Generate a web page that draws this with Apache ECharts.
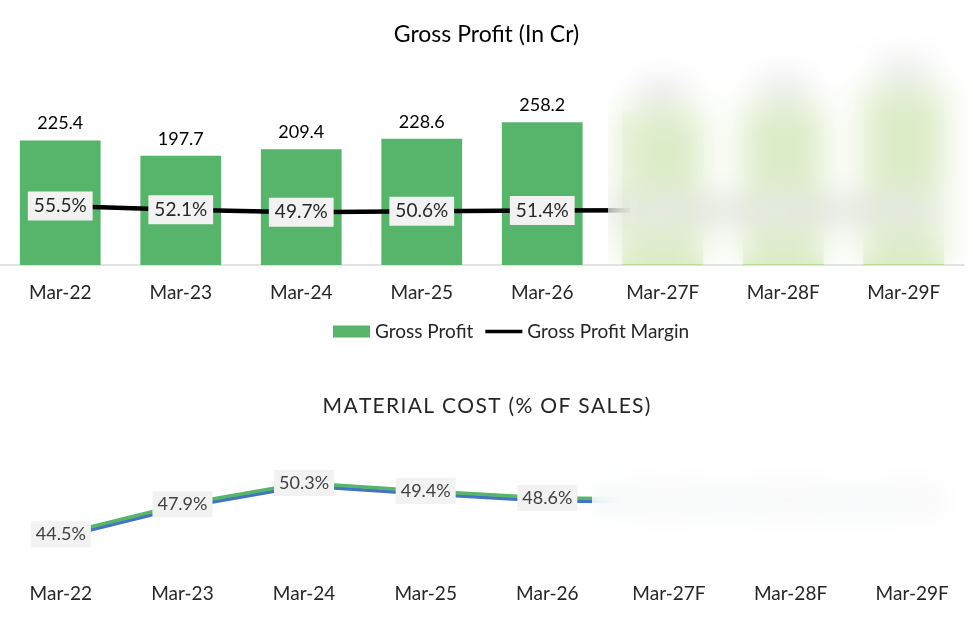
<!DOCTYPE html>
<html>
<head>
<meta charset="utf-8">
<script src="https://cdn.jsdelivr.net/npm/echarts@6/dist/echarts.min.js"></script>
<style>
  html, body { margin: 0; padding: 0; background: #fff; }
  #wrap { position: relative; width: 973px; height: 630px; }
  #chart { width: 973px; height: 630px; }
  .blur { position: absolute; backdrop-filter: blur(16px); -webkit-backdrop-filter: blur(16px); }
</style>
</head>
<body>
<div id="wrap">
  <div id="chart"></div>
  <div class="blur" style="left:608px;top:22px;width:365px;height:242px;background:rgba(255,255,255,0.45)"></div>
  <div class="blur" style="left:592px;top:453px;width:370px;height:117px;background:rgba(255,255,255,0.75)"></div>
</div>
<script>
const years = ['Mar-22', 'Mar-23', 'Mar-24', 'Mar-25', 'Mar-26', 'Mar-27F', 'Mar-28F', 'Mar-29F'];
// gross profit in Cr (forecast years are blurred in the source, rough guesses)
const grossProfit = [225.4, 197.7, 209.4, 228.6, 258.2, 280, 290, 320];
const grossMargin = [55.5, 52.1, 49.7, 50.6, 51.4, 51.5, 51.6, 51.8];
const materialCost = [44.5, 47.9, 50.3, 49.4, 48.6, 48.5, 48.4, 48.2];
const forecastFrom = 5;

const font = 'Lato, "Open Sans", sans-serif';
const green = '#57b56b';
const lightGreen = '#bfdc9a';

// spread letters a little, the source title is letter spaced
const spaced = s => s.split('').join('\u200A');

const chart = echarts.init(document.getElementById('chart'));

const pctLabel = {
  show: true,
  position: 'inside',
  formatter: p => p.value.toFixed(1) + '%',
  color: '#262626',
  fontFamily: font,
  fontSize: 19,
  backgroundColor: '#f2f2f2',
  padding: [6, 6, 4, 6]
};

const option = {
  animation: false,
  textStyle: { fontFamily: font },
  title: [
    {
      text: 'Gross Profit (In Cr)',
      left: 'center',
      top: 18,
      textStyle: { fontFamily: font, fontSize: 23, fontWeight: 'normal', color: '#000' }
    },
    {
      text: spaced('MATERIAL COST (% OF SALES)'),
      left: 'center',
      top: 391,
      textStyle: { fontFamily: font, fontSize: 21, fontWeight: 'normal', color: '#262626' }
    }
  ],
  legend: {
    top: 317,
    left: 328,
    itemGap: 12,
    itemWidth: 37,
    itemHeight: 12,
    textStyle: { fontFamily: font, fontSize: 19, color: '#262626' },
    data: [
      { name: 'Gross Profit', icon: 'rect' },
      { name: 'Gross Profit Margin', icon: 'path://M0,0 L44,0 L44,4 L0,4 Z', itemStyle: { color: '#000' } }
    ]
  },
  grid: [
    { left: -4, width: 968, top: 44, height: 221 },
    { left: -1, width: 976, top: 468, height: 106 }
  ],
  xAxis: [
    {
      type: 'category', gridIndex: 0, data: years,
      axisLine: { lineStyle: { color: '#d9d9d9', width: 1.5 } },
      axisTick: { show: false },
      axisLabel: { fontFamily: font, fontSize: 19, color: '#262626', margin: 18 }
    },
    {
      type: 'category', gridIndex: 1, data: years,
      axisLine: { show: false },
      axisTick: { show: false },
      axisLabel: { fontFamily: font, fontSize: 19, color: '#262626', margin: 10 }
    }
  ],
  yAxis: [
    { type: 'value', gridIndex: 0, min: 0, max: 400, show: false, splitLine: { show: false } },
    { type: 'value', gridIndex: 0, min: 0, max: 208, show: false, splitLine: { show: false } },
    { type: 'value', gridIndex: 1, min: 40, max: 52, show: false, splitLine: { show: false } }
  ],
  series: [
    {
      name: 'Gross Profit',
      type: 'bar',
      xAxisIndex: 0, yAxisIndex: 0,
      data: grossProfit.map((v, i) => i >= forecastFrom ? { value: v, itemStyle: { color: lightGreen } } : v),
      barCategoryGap: '33%',
      itemStyle: { color: green },
      label: {
        show: true, position: 'top', distance: 8,
        formatter: p => p.value.toFixed(1),
        fontFamily: font, fontSize: 18, color: '#000'
      }
    },
    {
      name: 'Gross Profit Margin',
      type: 'line',
      xAxisIndex: 0, yAxisIndex: 1,
      data: grossMargin,
      symbol: 'circle',
      symbolSize: 1,
      showSymbol: true,
      lineStyle: { color: '#000', width: 4.5 },
      itemStyle: { color: '#000' },
      label: pctLabel,
      z: 5
    },
    {
      name: 'Material Cost',
      type: 'line',
      xAxisIndex: 1, yAxisIndex: 2,
      data: materialCost,
      symbol: 'circle',
      symbolSize: 1,
      showSymbol: true,
      itemStyle: { color: green },
      lineStyle: { color: green, width: 3.5, shadowColor: '#4472c4', shadowOffsetY: 3, shadowBlur: 0 },
      label: Object.assign({}, pctLabel, { color: '#404040', fontSize: 18, padding: [5, 5, 3, 5] })
    }
  ]
};

chart.setOption(option);
</script>
</body>
</html>
